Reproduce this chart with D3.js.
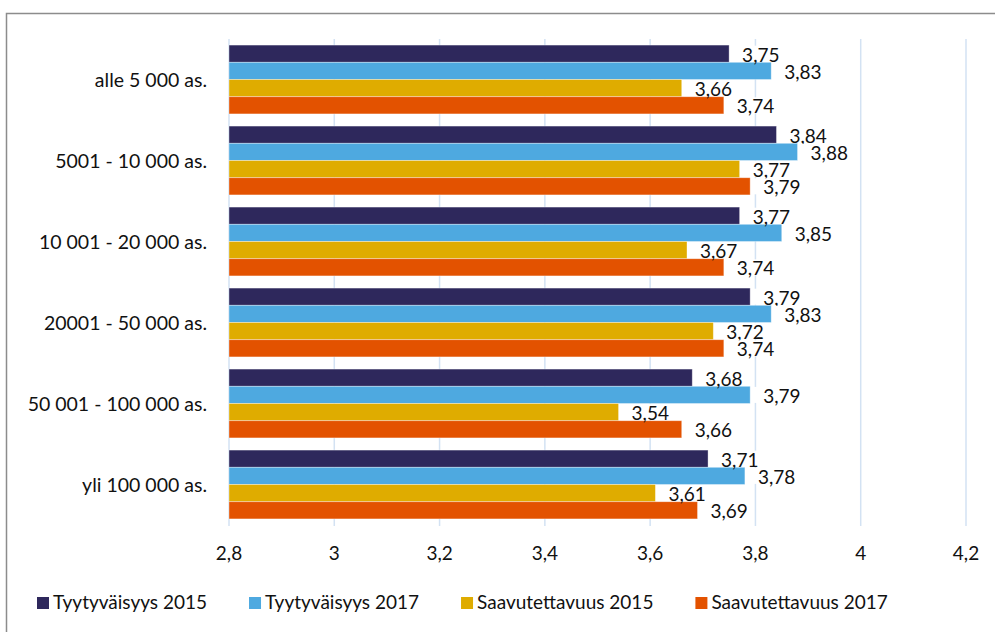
<!DOCTYPE html>
<html>
<head>
<meta charset="utf-8">
<script src="https://cdn.jsdelivr.net/npm/d3@7"></script>
<style>
    body { margin: 0; background: #fff; }
    text { font-family: Lato, "Noto Sans", sans-serif; fill: #111; }
</style>
</head>
<body>
<script>
const width = 995;
const height = 632;

const categories = ["alle 5 000 as.", "5001 - 10 000 as.", "10 001 - 20 000 as.",
    "20001 - 50 000 as.", "50 001 - 100 000 as.", "yli 100 000 as."];
const seriesNames = ["Tyytyväisyys 2015", "Tyytyväisyys 2017", "Saavutettavuus 2015", "Saavutettavuus 2017"];
const tyyt2015 = [3.75, 3.84, 3.77, 3.79, 3.68, 3.71];
const tyyt2017 = [3.83, 3.88, 3.85, 3.83, 3.79, 3.78];
const saav2015 = [3.66, 3.77, 3.67, 3.72, 3.54, 3.61];
const saav2017 = [3.74, 3.79, 3.74, 3.74, 3.66, 3.69];
const ticks = [2.8, 3, 3.2, 3.4, 3.6, 3.8, 4, 4.2];
const colors = ["#2e285c", "#4ea9e0", "#dfac00", "#e35200"];

const values = [tyyt2015, tyyt2017, saav2015, saav2017];
const fmt = v => String(v).replace(".", ",");

let svg = d3.select("body").append("svg")
    .attr("width", width)
    .attr("height", height)

// outer frame (runs off right/bottom edge like the original)
svg.append("rect")
    .attr("x", 6.5).attr("y", 13.5)
    .attr("width", 1100).attr("height", 700)
    .attr("fill", "none")
    .attr("stroke", "#8c8c8c")
    .attr("stroke-width", 1.5)

let x = d3.scaleLinear().domain([2.8, 4.2]).range([229, 966]);
let y = d3.scaleBand().domain(categories).range([39, 525])
    .paddingInner(0.15).paddingOuter(0.075);
let ySub = d3.scaleBand().domain(d3.range(seriesNames.length)).range([0, y.bandwidth()]);

// gridlines
svg.append("g").selectAll("line")
    .data(ticks)
    .enter().append("line")
    .attr("x1", d => x(d)).attr("x2", d => x(d))
    .attr("y1", 39).attr("y2", 526)
    .attr("stroke", "#d3e2f3")
    .attr("stroke-width", 1.5)

// tick labels
svg.append("g").selectAll("text")
    .data(ticks)
    .enter().append("text")
    .attr("x", d => x(d))
    .attr("y", 560)
    .attr("text-anchor", "middle")
    .style("font-size", "19px")
    .text(d => fmt(d))

// category labels
svg.append("g").selectAll("text")
    .data(categories)
    .enter().append("text")
    .attr("x", 207)
    .attr("y", d => y(d) + y.bandwidth() / 2 + 7)
    .attr("text-anchor", "end")
    .style("font-size", "19.5px")
    .text(d => d)

// bars
let rows = [];
categories.forEach((c, i) => {
    values.forEach((s, j) => rows.push({ cat: c, s: j, v: s[i] }));
});

let barG = svg.append("g");
barG.selectAll("rect")
    .data(rows)
    .enter().append("rect")
    .attr("x", x(2.8))
    .attr("y", d => y(d.cat) + ySub(d.s))
    .attr("width", d => x(d.v) - x(2.8))
    .attr("height", ySub.bandwidth())
    .attr("fill", d => colors[d.s])
    .attr("stroke", "#ffffff")
    .attr("stroke-opacity", 0.45)
    .attr("stroke-width", 0.8)

// value labels with white fill
let lab = svg.append("g").selectAll("g")
    .data(rows)
    .enter().append("g")
    .attr("transform", d => "translate(" + (x(d.v) + 13) + "," + (y(d.cat) + ySub(d.s) + ySub.bandwidth() / 2) + ")")

lab.append("rect")
    .attr("x", -11).attr("y", -8)
    .attr("width", 50).attr("height", 16)
    .attr("fill", "#fff")

lab.append("text")
    .attr("y", 8)
    .style("font-size", "19px")
    .text(d => fmt(d.v))

// legend
let legend = svg.append("g").attr("transform", "translate(37,597)");
let lx = 0;
seriesNames.forEach((n, i) => {
    let item = legend.append("g").attr("transform", "translate(" + lx + ",0)");
    item.append("rect")
        .attr("width", 12).attr("height", 12)
        .attr("fill", colors[i])
    let t = item.append("text")
        .attr("x", 16).attr("y", 12)
        .style("font-size", "19px")
        .text(n)
    lx += 16 + t.node().getComputedTextLength() + 42;
});
</script>
</body>
</html>
